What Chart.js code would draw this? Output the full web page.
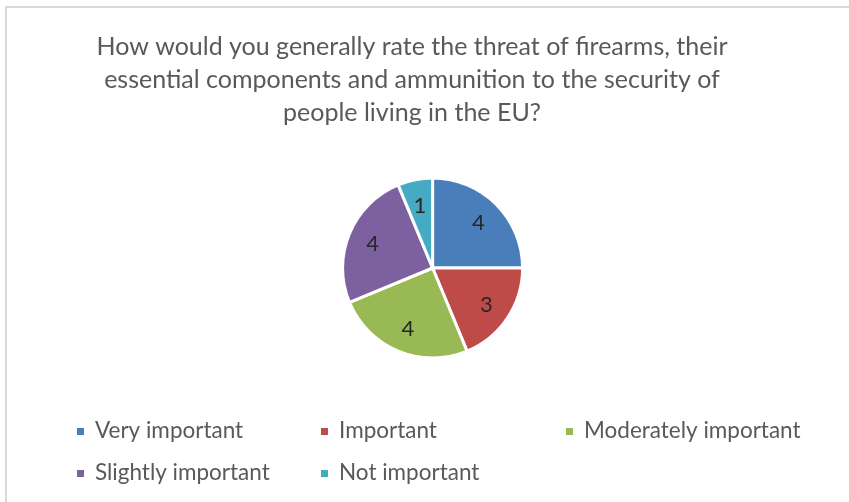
<!DOCTYPE html>
<html>
<head>
<meta charset="utf-8">
<script src="https://cdn.jsdelivr.net/npm/chart.js@4/dist/chart.umd.min.js"></script>
<style>
  html, body { margin: 0; padding: 0; background: #ffffff; }
  #wrap { position: absolute; left: 0; top: 0; width: 849px; height: 502px; }
</style>
</head>
<body>
<div id="wrap"><canvas id="c" width="849" height="502"></canvas></div>
<script>
const titleLines = [
  'How would you generally rate the threat of firearms, their',
  'essential components and ammunition to the security of',
  'people living in the EU?'
];
const categories = ['Very important', 'Important', 'Moderately important', 'Slightly important', 'Not important'];
const counts = [4, 3, 4, 4, 1];
const sliceColors = ['#4a7ebb', '#be4b48', '#98b954', '#7d60a0', '#46aac5'];

const FONT = 'Lato, "Open Sans", sans-serif';

const framePlugin = {
  id: 'frame',
  beforeDraw(chart) {
    const ctx = chart.ctx;
    ctx.save();
    ctx.fillStyle = '#ffffff';
    ctx.fillRect(0, 0, chart.width, chart.height);
    ctx.strokeStyle = '#d9d9d9';
    ctx.lineWidth = 2;
    ctx.beginPath();
    ctx.moveTo(6, chart.height);
    ctx.lineTo(6, 7);
    ctx.lineTo(chart.width, 7);
    ctx.stroke();
    ctx.restore();
  }
};

const sliceLabelPlugin = {
  id: 'sliceLabels',
  afterDatasetsDraw(chart) {
    const ctx = chart.ctx;
    const meta = chart.getDatasetMeta(0);
    const ds = chart.data.datasets[0];
    ctx.save();
    ctx.font = '22px ' + FONT;
    ctx.fillStyle = '#262626';
    ctx.textAlign = 'center';
    ctx.textBaseline = 'middle';
    meta.data.forEach((arc, i) => {
      const p = arc.getProps(['x', 'y', 'startAngle', 'endAngle', 'outerRadius'], true);
      const mid = (p.startAngle + p.endAngle) / 2;
      const r = p.outerRadius * 0.72;
      ctx.fillText(String(ds.data[i]), p.x + Math.cos(mid) * r, p.y + Math.sin(mid) * r + 1);
    });
    ctx.restore();
  }
};

const gridLegendPlugin = {
  id: 'gridLegend',
  afterDraw(chart) {
    const ctx = chart.ctx;
    const cols = [77, 321, 566];
    const rows = [431, 473];
    const ds = chart.data.datasets[0];
    ctx.save();
    ctx.font = '22.5px ' + FONT;
    ctx.textBaseline = 'middle';
    ctx.textAlign = 'left';
    chart.data.labels.forEach((lab, i) => {
      const x = cols[i % 3];
      const y = rows[Math.floor(i / 3)];
      ctx.fillStyle = ds.backgroundColor[i];
      ctx.fillRect(x, y - 3, 7, 7);
      ctx.fillStyle = '#595959';
      ctx.fillText(lab, x + 18, y);
    });
    ctx.restore();
  }
};

new Chart(document.getElementById('c'), {
  type: 'pie',
  data: {
    labels: categories,
    datasets: [{
      data: counts,
      backgroundColor: sliceColors,
      borderColor: '#ffffff',
      borderWidth: 3,
      radius: 90
    }]
  },
  options: {
    responsive: false,
    animation: false,
    layout: { padding: { top: 0, bottom: 105, left: 0, right: 25 } },
    plugins: {
      legend: { display: false },
      tooltip: { enabled: false },
      title: {
        display: true,
        text: titleLines,
        color: '#595959',
        font: { family: FONT, size: 25, weight: 'normal', lineHeight: 1.32 },
        padding: { top: 30, bottom: 10 }
      },
      subtitle: {
        display: true,
        position: 'left',
        text: '',
        font: { size: 1 },
        padding: { top: 20, bottom: 20 }
      }
    }
  },
  plugins: [framePlugin, sliceLabelPlugin, gridLegendPlugin]
});
</script>
</body>
</html>
